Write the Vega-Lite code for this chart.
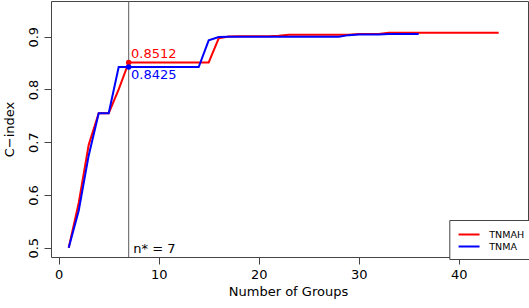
{
  "$schema": "https://vega.github.io/schema/vega-lite/v6.json",
  "width": 477,
  "height": 256,
  "autosize": {"type": "none"},
  "padding": {"left": 51, "top": 1, "right": 1, "bottom": 51},
  "background": "white",
  "config": {
    "view": {"stroke": "#444444", "strokeWidth": 1},
    "font": "DejaVu Sans",
    "axis": {
      "grid": false,
      "domain": false,
      "tickColor": "#444444",
      "tickSize": 7,
      "labelFont": "DejaVu Sans",
      "labelFontSize": 13,
      "labelColor": "black",
      "labelOverlap": false,
      "labelFlush": false,
      "titleFont": "DejaVu Sans",
      "titleFontSize": 13,
      "titleFontWeight": "normal",
      "titleColor": "black"
    }
  },
  "datasets": {
    "cindex": [
      {"groups": 1, "cindex": 0.5, "model": "TNMAH"},
      {"groups": 2, "cindex": 0.585, "model": "TNMAH"},
      {"groups": 3, "cindex": 0.695, "model": "TNMAH"},
      {"groups": 4, "cindex": 0.755, "model": "TNMAH"},
      {"groups": 5, "cindex": 0.755, "model": "TNMAH"},
      {"groups": 6, "cindex": 0.8, "model": "TNMAH"},
      {"groups": 7, "cindex": 0.8512, "model": "TNMAH"},
      {"groups": 8, "cindex": 0.8512, "model": "TNMAH"},
      {"groups": 9, "cindex": 0.8512, "model": "TNMAH"},
      {"groups": 10, "cindex": 0.8512, "model": "TNMAH"},
      {"groups": 11, "cindex": 0.8512, "model": "TNMAH"},
      {"groups": 12, "cindex": 0.8512, "model": "TNMAH"},
      {"groups": 13, "cindex": 0.8512, "model": "TNMAH"},
      {"groups": 14, "cindex": 0.8512, "model": "TNMAH"},
      {"groups": 15, "cindex": 0.8512, "model": "TNMAH"},
      {"groups": 16, "cindex": 0.897, "model": "TNMAH"},
      {"groups": 17, "cindex": 0.9005, "model": "TNMAH"},
      {"groups": 18, "cindex": 0.901, "model": "TNMAH"},
      {"groups": 19, "cindex": 0.901, "model": "TNMAH"},
      {"groups": 20, "cindex": 0.901, "model": "TNMAH"},
      {"groups": 21, "cindex": 0.901, "model": "TNMAH"},
      {"groups": 22, "cindex": 0.902, "model": "TNMAH"},
      {"groups": 23, "cindex": 0.9035, "model": "TNMAH"},
      {"groups": 24, "cindex": 0.9035, "model": "TNMAH"},
      {"groups": 25, "cindex": 0.9035, "model": "TNMAH"},
      {"groups": 26, "cindex": 0.9035, "model": "TNMAH"},
      {"groups": 27, "cindex": 0.9035, "model": "TNMAH"},
      {"groups": 28, "cindex": 0.9035, "model": "TNMAH"},
      {"groups": 29, "cindex": 0.9035, "model": "TNMAH"},
      {"groups": 30, "cindex": 0.905, "model": "TNMAH"},
      {"groups": 31, "cindex": 0.905, "model": "TNMAH"},
      {"groups": 32, "cindex": 0.905, "model": "TNMAH"},
      {"groups": 33, "cindex": 0.9075, "model": "TNMAH"},
      {"groups": 34, "cindex": 0.9075, "model": "TNMAH"},
      {"groups": 35, "cindex": 0.9075, "model": "TNMAH"},
      {"groups": 36, "cindex": 0.9075, "model": "TNMAH"},
      {"groups": 37, "cindex": 0.9075, "model": "TNMAH"},
      {"groups": 38, "cindex": 0.9075, "model": "TNMAH"},
      {"groups": 39, "cindex": 0.9075, "model": "TNMAH"},
      {"groups": 40, "cindex": 0.9075, "model": "TNMAH"},
      {"groups": 41, "cindex": 0.9075, "model": "TNMAH"},
      {"groups": 42, "cindex": 0.9075, "model": "TNMAH"},
      {"groups": 43, "cindex": 0.9075, "model": "TNMAH"},
      {"groups": 44, "cindex": 0.9075, "model": "TNMAH"},
      {"groups": 1, "cindex": 0.5, "model": "TNMA"},
      {"groups": 2, "cindex": 0.57, "model": "TNMA"},
      {"groups": 3, "cindex": 0.675, "model": "TNMA"},
      {"groups": 4, "cindex": 0.755, "model": "TNMA"},
      {"groups": 5, "cindex": 0.755, "model": "TNMA"},
      {"groups": 6, "cindex": 0.8425, "model": "TNMA"},
      {"groups": 7, "cindex": 0.8425, "model": "TNMA"},
      {"groups": 8, "cindex": 0.8425, "model": "TNMA"},
      {"groups": 9, "cindex": 0.8425, "model": "TNMA"},
      {"groups": 10, "cindex": 0.8425, "model": "TNMA"},
      {"groups": 11, "cindex": 0.8425, "model": "TNMA"},
      {"groups": 12, "cindex": 0.8425, "model": "TNMA"},
      {"groups": 13, "cindex": 0.8425, "model": "TNMA"},
      {"groups": 14, "cindex": 0.8425, "model": "TNMA"},
      {"groups": 15, "cindex": 0.893, "model": "TNMA"},
      {"groups": 16, "cindex": 0.8995, "model": "TNMA"},
      {"groups": 17, "cindex": 0.9, "model": "TNMA"},
      {"groups": 18, "cindex": 0.9, "model": "TNMA"},
      {"groups": 19, "cindex": 0.9, "model": "TNMA"},
      {"groups": 20, "cindex": 0.9, "model": "TNMA"},
      {"groups": 21, "cindex": 0.9, "model": "TNMA"},
      {"groups": 22, "cindex": 0.9, "model": "TNMA"},
      {"groups": 23, "cindex": 0.9, "model": "TNMA"},
      {"groups": 24, "cindex": 0.9, "model": "TNMA"},
      {"groups": 25, "cindex": 0.9, "model": "TNMA"},
      {"groups": 26, "cindex": 0.9, "model": "TNMA"},
      {"groups": 27, "cindex": 0.9, "model": "TNMA"},
      {"groups": 28, "cindex": 0.9, "model": "TNMA"},
      {"groups": 29, "cindex": 0.903, "model": "TNMA"},
      {"groups": 30, "cindex": 0.904, "model": "TNMA"},
      {"groups": 31, "cindex": 0.904, "model": "TNMA"},
      {"groups": 32, "cindex": 0.904, "model": "TNMA"},
      {"groups": 33, "cindex": 0.905, "model": "TNMA"},
      {"groups": 34, "cindex": 0.905, "model": "TNMA"},
      {"groups": 35, "cindex": 0.905, "model": "TNMA"},
      {"groups": 36, "cindex": 0.905, "model": "TNMA"}
    ]
  },
  "data": {"name": "cindex"},
  "layer": [
    {
      "data": {"values": [{"nstar": 7}]},
      "mark": {"type": "rule", "color": "#5a5a5a", "strokeWidth": 1},
      "encoding": {
        "x": {"field": "nstar", "type": "quantitative", "scale": {"domain": [-0.77, 46.93], "nice": false, "zero": false}}
      }
    },
    {
      "transform": [{"filter": "datum.model == 'TNMAH'"}],
      "mark": {"type": "line", "strokeWidth": 2},
      "encoding": {
        "x": {
          "field": "groups", "type": "quantitative",
          "scale": {"domain": [-0.77, 46.93], "nice": false, "zero": false},
          "axis": {"values": [0, 10, 20, 30, 40], "labelPadding": 4, "title": "Number of Groups", "titleX": 237, "titleY": 38.7, "titleAlign": "center", "titleBaseline": "alphabetic"}
        },
        "y": {
          "field": "cindex", "type": "quantitative",
          "scale": {"domain": [0.4824, 0.9677], "nice": false, "zero": false},
          "axis": {"values": [0.5, 0.6, 0.7, 0.8, 0.9], "format": ".1f", "labelAngle": 270, "labelAlign": "center", "labelBaseline": "alphabetic", "labelPadding": 7, "title": "C−index", "titleAngle": 270, "titleX": -38, "titleY": 128, "titleAlign": "center", "titleBaseline": "alphabetic"}
        },
        "color": {
          "field": "model", "type": "nominal",
          "scale": {"domain": ["TNMAH", "TNMA"], "range": ["#ff0000", "#0000ff"]},
          "legend": {"orient": "none", "legendX": 398.3, "legendY": 219, "title": null, "symbolType": "M-1,0L3,0", "symbolSize": 110, "symbolStrokeWidth": 2, "labelFont": "DejaVu Sans", "labelFontSize": 9.5, "labelColor": "black", "labelOffset": 19, "padding": 8, "strokeColor": "#444444", "fillColor": "white", "rowPadding": 1}
        }
      }
    },
    {
      "transform": [{"filter": "datum.model == 'TNMA'"}],
      "mark": {"type": "line", "strokeWidth": 2},
      "encoding": {
        "x": {"field": "groups", "type": "quantitative", "scale": {"domain": [-0.77, 46.93], "nice": false, "zero": false}},
        "y": {"field": "cindex", "type": "quantitative", "scale": {"domain": [0.4824, 0.9677], "nice": false, "zero": false}},
        "color": {"field": "model", "type": "nominal", "scale": {"domain": ["TNMAH", "TNMA"], "range": ["#ff0000", "#0000ff"]}}
      }
    },
    {
      "transform": [{"filter": "datum.groups == 7 && datum.model == 'TNMAH'"}],
      "mark": {"type": "circle", "size": 30, "color": "#ff0000", "opacity": 1},
      "encoding": {
        "x": {"field": "groups", "type": "quantitative"},
        "y": {"field": "cindex", "type": "quantitative"}
      }
    },
    {
      "transform": [{"filter": "datum.groups == 7 && datum.model == 'TNMA'"}],
      "mark": {"type": "circle", "size": 30, "color": "#0000ff", "opacity": 1},
      "encoding": {
        "x": {"field": "groups", "type": "quantitative"},
        "y": {"field": "cindex", "type": "quantitative"}
      }
    },
    {
      "transform": [{"filter": "datum.groups == 7 && datum.model == 'TNMAH'"}],
      "mark": {"type": "text", "align": "left", "baseline": "alphabetic", "dx": 2.3, "dy": -4, "fontSize": 13, "font": "DejaVu Sans", "color": "#ff0000"},
      "encoding": {
        "x": {"field": "groups", "type": "quantitative"},
        "y": {"field": "cindex", "type": "quantitative"},
        "text": {"field": "cindex", "type": "quantitative", "format": ".4f"}
      }
    },
    {
      "transform": [{"filter": "datum.groups == 7 && datum.model == 'TNMA'"}],
      "mark": {"type": "text", "align": "left", "baseline": "alphabetic", "dx": 2.3, "dy": 12, "fontSize": 13, "font": "DejaVu Sans", "color": "#0000ff"},
      "encoding": {
        "x": {"field": "groups", "type": "quantitative"},
        "y": {"field": "cindex", "type": "quantitative"},
        "text": {"field": "cindex", "type": "quantitative", "format": ".4f"}
      }
    },
    {
      "data": {"values": [{"nstar": 7, "base": 0.5, "label": "n* = 7"}]},
      "mark": {"type": "text", "align": "left", "baseline": "alphabetic", "dx": 4.6, "dy": 5.6, "fontSize": 13, "font": "DejaVu Sans", "color": "black"},
      "encoding": {
        "x": {"field": "nstar", "type": "quantitative"},
        "y": {"field": "base", "type": "quantitative"},
        "text": {"field": "label", "type": "nominal"}
      }
    }
  ]
}
